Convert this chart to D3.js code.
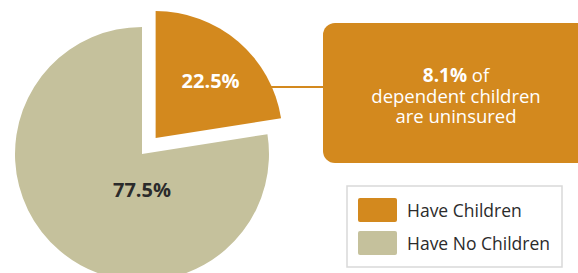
<!DOCTYPE html>
<html>
<head>
<meta charset="utf-8">
<script src="https://cdn.jsdelivr.net/npm/d3@7"></script>
<style>
  body { margin: 0; background: #fff; }
  svg { display: block; font-family: "Open Sans", "DejaVu Sans", sans-serif; }
</style>
</head>
<body>
<script>
// data
const categories = ["Have Children", "Have No Children"];
const shares = [22.5, 77.5];
const sliceColors = ["#d3891e", "#c5c19c"];
const labelColors = ["#ffffff", "#2b2b2b"];
const calloutLines = ["dependent children", "are uninsured"];
const calloutValue = "8.1%";

var width = 578, height = 273;
var cx = 142, cy = 154, radius = 127, explode = 21;

var svg = d3.select("body")
    .append("svg")
    .attr("width", width)
    .attr("height", height);

var pie = d3.pie().sort(null).value(d => d);
var arcs = pie(shares);

var arc = d3.arc().innerRadius(0).outerRadius(radius);
var labelArc = d3.arc().innerRadius(80).outerRadius(80);

// offset of a slice when it is pulled out
function shift(d, i) {
    if (i != 0) return [0, 0];
    var a = (d.startAngle + d.endAngle) / 2;
    return [explode * Math.sin(a), -explode * Math.cos(a)];
}

var g = svg.append("g").attr("transform", `translate(${cx},${cy})`);

var slices = g.selectAll("g.slice")
    .data(arcs)
    .enter()
    .append("g")
    .attr("class", "slice")
    .attr("transform", (d, i) => {
        let s = shift(d, i);
        return `translate(${s[0]},${s[1]})`;
    });

slices.append("path")
    .attr("d", arc)
    .attr("fill", (d, i) => sliceColors[i]);

// connector from the orange slice to the callout box
var boxX = 323, boxY = 23, boxW = 266, boxH = 140;
var s0 = shift(arcs[0], 0);
var lineY = -51;
// x where the slice outline crosses lineY
var edgeX = Math.sqrt(radius * radius - lineY * lineY);
g.append("line")
    .attr("x1", s0[0] + edgeX - 2)
    .attr("x2", boxX - cx)
    .attr("y1", s0[1] + lineY)
    .attr("y2", s0[1] + lineY)
    .attr("stroke", sliceColors[0])
    .attr("stroke-width", 2);

slices.append("text")
    .attr("transform", (d, i) => {
        if (i == 0) {
            let c = labelArc.centroid(d);
            return `translate(${c[0] + 3},${c[1] + 3})`;
        }
        return `translate(0,${radius * 0.28})`;
    })
    .attr("text-anchor", "middle")
    .attr("dominant-baseline", "central")
    .attr("font-size", "20px")
    .attr("font-weight", "bold")
    .attr("fill", (d, i) => labelColors[i])
    .text(d => d.data.toFixed(1) + "%");

// callout box
svg.append("rect")
    .attr("x", boxX)
    .attr("y", boxY)
    .attr("width", boxW)
    .attr("height", boxH)
    .attr("rx", 12)
    .attr("fill", sliceColors[0]);

var tx = boxX + boxW / 2;
var t1 = svg.append("text")
    .attr("x", tx)
    .attr("y", 82)
    .attr("text-anchor", "middle")
    .attr("fill", "#fff")
    .attr("font-size", "18.5px");
t1.append("tspan").attr("font-weight", "bold").attr("font-size", "19px").text(calloutValue);
t1.append("tspan").text(" of");

svg.selectAll("text.callout")
    .data(calloutLines)
    .enter()
    .append("text")
    .attr("class", "callout")
    .attr("x", tx)
    .attr("y", (d, i) => 102.5 + i * 20.5)
    .attr("text-anchor", "middle")
    .attr("fill", "#fff")
    .attr("font-size", "18.5px")
    .text(d => d);

// legend
var legend = svg.append("g").attr("transform", "translate(347,186)");
legend.append("rect")
    .attr("width", 215)
    .attr("height", 81)
    .attr("fill", "#fff")
    .attr("stroke", "#d9d9d9")
    .attr("stroke-width", 1.5);

var items = legend.selectAll("g.item")
    .data(categories)
    .enter()
    .append("g")
    .attr("class", "item")
    .attr("transform", (d, i) => `translate(11,${12 + i * 33})`);

items.append("rect")
    .attr("width", 39)
    .attr("height", 24)
    .attr("rx", 2)
    .attr("fill", (d, i) => sliceColors[i]);

items.append("text")
    .attr("x", 49)
    .attr("y", 12)
    .attr("dominant-baseline", "central")
    .attr("font-size", "17.5px")
    .attr("fill", "#2b2b2b")
    .text(d => d);
</script>
</body>
</html>
